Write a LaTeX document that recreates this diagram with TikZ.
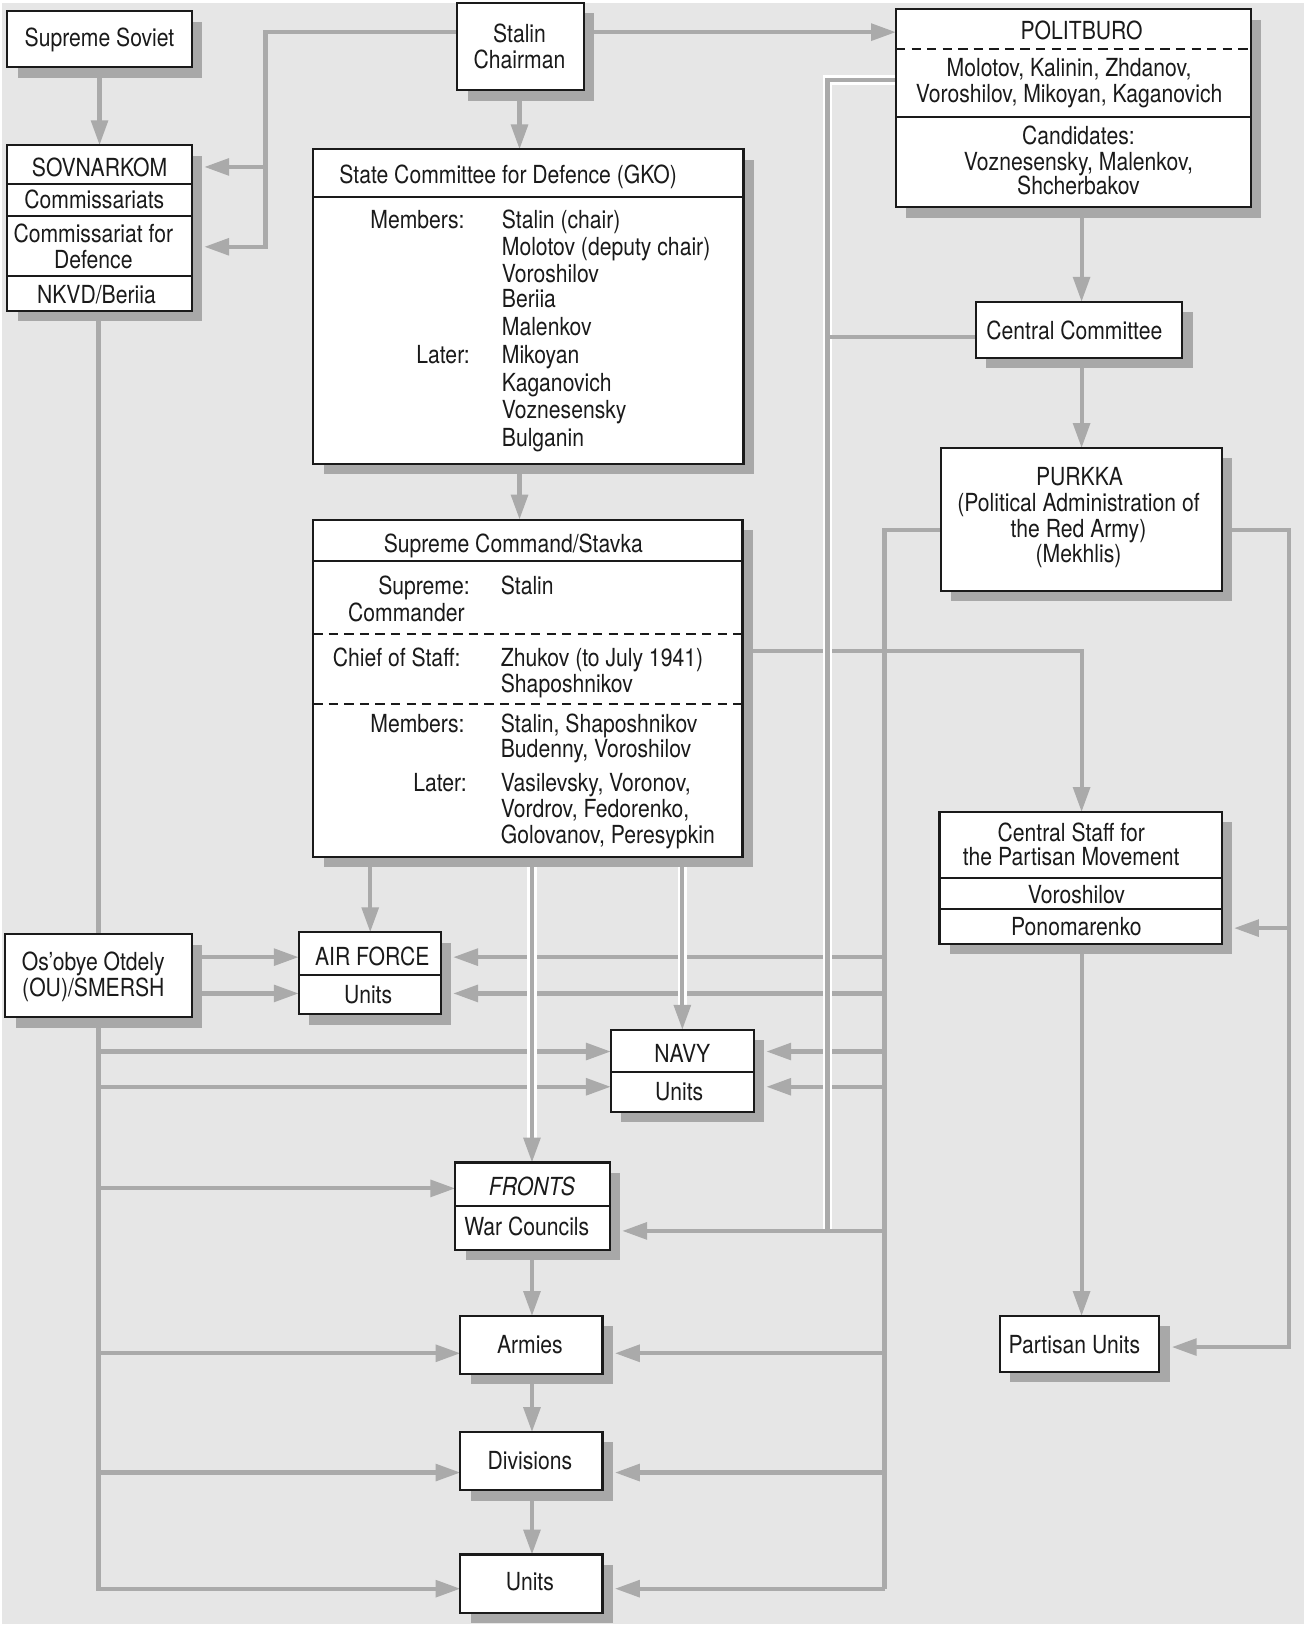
\documentclass[tikz,border=0pt]{standalone}
\usepackage{fontspec}
\setmainfont{TeX Gyre Heros}[FakeStretch=0.85]
\usetikzlibrary{arrows.meta,shadows}
\definecolor{bgc}{HTML}{E6E6E6}
\definecolor{lnc}{HTML}{AAAAAA}
\definecolor{shc}{HTML}{A8A8A8}
\definecolor{txc}{HTML}{1A1A1A}
\pgfdeclarelayer{back}
\pgfdeclarelayer{lines}
\pgfsetlayers{back,lines,main}
\tikzset{
 box/.style={draw=txc, line width=2pt, fill=white, inner sep=0pt, outer sep=0pt,
   drop shadow={shadow xshift=10pt, shadow yshift=-10pt, fill=shc, opacity=1}},
 sepline/.style={draw=txc, line width=2pt},
 dsepline/.style={draw=txc, line width=2pt, dash pattern=on 9pt off 6pt},
 conn/.style={draw=lnc, line width=4pt},
 arr/.style={conn, -{Triangle[length=24pt,width=16pt]}},
 arrs/.style={arr, shorten >=12pt},
 halo/.style={draw=white, line width=9pt},
 txt/.style={font=\fontsize{24}{26}\selectfont, text=txc, inner sep=0pt, outer sep=0pt},
}
\newcommand\mkbox[5]{\node[box, minimum width={(#4-#2)*1pt}, minimum height={(#5-#3)*1pt}] (#1) at ({(#2+#4)/2},{(#3+#5)/2}) {};}
\newcommand\tx[5]{\node[txt, anchor=#2] (#1) at (#3,#4) {#5};}
\begin{document}
\begin{tikzpicture}[x=1pt,y=-1pt]
\useasboundingbox (0,0) rectangle (1257,1568);
\begin{pgfonlayer}{back}
\fill[white] (0,0) rectangle (1257,1568);
\fill[bgc] (2,3) rectangle (1257,1566);
\end{pgfonlayer}

% ---------- boxes ----------
\mkbox{ss}{7}{11}{185}{65}
\mkbox{stalin}{441}{3}{563}{87}
\mkbox{polit}{864}{9}{1206}{200}
\mkbox{sov}{7}{140}{185}{300}
\mkbox{gko}{302}{144}{717}{447}
\mkbox{cc}{941}{291}{1140}{345}
\mkbox{purkka}{907}{432}{1178}{570}
\mkbox{stavka}{302}{501}{716}{826}
\mkbox{csp}{906}{783}{1178}{910}
\mkbox{ou}{5}{901}{185}{981}
\mkbox{af}{288}{899}{425}{978}
\mkbox{navy}{589}{993}{727}{1072}
\mkbox{fronts}{439}{1121}{588}{1205}
\mkbox{armies}{444}{1269}{581}{1325}
\mkbox{div}{444}{1381}{581}{1437}
\mkbox{units}{444}{1499}{581}{1555}
\mkbox{pu}{964}{1269}{1118}{1323}

% ---------- inner separators ----------
\draw[dsepline] (864,47) -- (1206,47);
\draw[sepline] (864,113) -- (1206,113);
\draw[sepline] (7,177) -- (185,177);
\draw[sepline] (7,208) -- (185,208);
\draw[sepline] (7,266) -- (185,266);
\draw[sepline] (302,190) -- (717,190);
\draw[sepline] (302,541) -- (716,541);
\draw[dsepline] (302,611) -- (716,611);
\draw[dsepline] (302,679) -- (716,679);
\draw[sepline] (906,847) -- (1178,847);
\draw[sepline] (906,877) -- (1178,877);
\draw[sepline] (288,940) -- (425,940);
\draw[sepline] (589,1034) -- (727,1034);
\draw[sepline] (439,1163) -- (588,1163);

% ---------- texts ----------
\tx{t1}{base}{96}{45}{Supreme Soviet}
\tx{t2}{base}{501}{41}{Stalin}
\tx{t3}{base}{501}{66}{Chairman}
\tx{t4}{base}{1043}{38}{POLITBURO}
\tx{t5}{base}{1031}{74}{Molotov, Kalinin, Zhdanov,}
\tx{t6}{base}{1031}{99}{Voroshilov, Mikoyan, Kaganovich}
\tx{t7}{base}{1040}{139}{Candidates:}
\tx{t8}{base}{1040}{164}{Voznesensky, Malenkov,}
\tx{t9}{base}{1040}{188}{Shcherbakov}
\tx{t10}{base}{96}{170}{SOVNARKOM}
\tx{t11}{base}{91}{201}{Commissariats}
\tx{t12}{base}{90}{234}{Commissariat for}
\tx{t13}{base}{90}{259}{Defence}
\tx{t14}{base}{93}{293}{NKVD/Beriia}
\tx{t15}{base}{490}{177}{State Committee for Defence (GKO)}
\tx{t16}{base east}{448}{220}{Members:}
\tx{t17}{base west}{484}{220}{Stalin (chair)}
\tx{t18}{base west}{484}{246}{Molotov (deputy chair)}
\tx{t19}{base west}{484}{272}{Voroshilov}
\tx{t20}{base west}{484}{297}{Beriia}
\tx{t21}{base west}{484}{324}{Malenkov}
\tx{t22}{base east}{453}{351}{Later:}
\tx{t23}{base west}{484}{351}{Mikoyan}
\tx{t24}{base west}{484}{378}{Kaganovich}
\tx{t25}{base west}{484}{404}{Voznesensky}
\tx{t26}{base west}{484}{431}{Bulganin}
\tx{t27}{base}{1036}{327}{Central Committee}
\tx{t28}{base}{1041}{468}{PURKKA}
\tx{t29}{base}{1040}{493}{(Political Administration of}
\tx{t30}{base}{1040}{518}{the Red Army)}
\tx{t31}{base}{1040}{542}{(Mekhlis)}
\tx{t32}{base}{495}{533}{Supreme Command/Stavka}
\tx{t33}{base east}{453}{573}{Supreme:}
\tx{t34}{base west}{483}{573}{Stalin}
\tx{t35}{base east}{448}{599}{Commander}
\tx{t36}{base east}{444}{643}{Chief of Staff:}
\tx{t37}{base west}{483}{643}{Zhukov (to July 1941)}
\tx{t38}{base west}{483}{668}{Shaposhnikov}
\tx{t39}{base east}{448}{706}{Members:}
\tx{t40}{base west}{483}{706}{Stalin, Shaposhnikov}
\tx{t41}{base west}{483}{730}{Budenny, Voroshilov}
\tx{t42}{base east}{450}{763}{Later:}
\tx{t43}{base west}{483}{763}{Vasilevsky, Voronov,}
\tx{t44}{base west}{483}{788}{Vordrov, Fedorenko,}
\tx{t45}{base west}{483}{813}{Golovanov, Peresypkin}
\tx{t46}{base}{1033}{811}{Central Staff for}
\tx{t47}{base}{1033}{835}{the Partisan Movement}
\tx{t48}{base}{1038}{871}{Voroshilov}
\tx{t49}{base}{1038}{902}{Ponomarenko}
\tx{t50}{base}{90}{936}{Os’obye Otdely}
\tx{t51}{base}{90}{961}{(OU)/SMERSH}
\tx{t52}{base}{359}{931}{AIR FORCE}
\tx{t53}{base}{355}{968}{Units}
\tx{t54}{base}{658}{1025}{NAVY}
\tx{t55}{base}{655}{1061}{Units}
\tx{t56}{base}{513}{1153}{\itshape FRONTS}
\tx{t57}{base}{508}{1191}{War Councils}
\tx{t58}{base}{511}{1305}{Armies}
\tx{t59}{base}{511}{1417}{Divisions}
\tx{t60}{base}{511}{1534}{Units}
\tx{t61}{base}{1036}{1305}{Partisan Units}

% ---------- guide coordinates ----------
\coordinate (s1) at (256,31);
\coordinate (s2) at (256,161);
\coordinate (s3) at (256,238);
\coordinate (v501) at (501,0);
\coordinate (v1043) at (1043,0);
\coordinate (v357) at (357,0);
\coordinate (v513) at (513,0);
\coordinate (v658) at (658,0);
\coordinate (lt) at (95,0);
\coordinate (k1) at (1043,628);
\coordinate (r1) at (1243,511);
\coordinate (r2) at (1243,1299);
\coordinate (r3) at (1243,895);
\coordinate (l1) at (853,511);
\coordinate (p1) at (798,77);
\coordinate (hcc) at (0,325);
\coordinate (h923) at (0,923);
\coordinate (h958) at (0,958);
\coordinate (h1014) at (0,1014);
\coordinate (h1048) at (0,1048);
\coordinate (h1146) at (0,1146);
\coordinate (h1187) at (0,1187);
\coordinate (h1305) at (0,1305);
\coordinate (h1420) at (0,1420);
\coordinate (h1532) at (0,1532);

% ---------- connectors ----------
\begin{pgfonlayer}{lines}
\draw[arr] (ss.south) -- (sov.north);
\draw[arrs] (stalin.west |- s1) -- (s1) -- (s3) -- (sov.east |- s3);
\draw[arrs] (s2) -- (sov.east |- s2);
\draw[arr] (stalin.east |- s1) -- (polit.west |- s1);
\draw[arr] (stalin.south -| v501) -- (gko.north -| v501);
\draw[arr] (gko.south -| v501) -- (stavka.north -| v501);
\draw[arr] (polit.south -| v1043) -- (cc.north -| v1043);
\draw[arr] (cc.south -| v1043) -- (purkka.north -| v1043);
\draw[arr] (stavka.east |- k1) -- (k1) -- (csp.north -| k1);
\draw[arrs] (purkka.east |- r1) -- (r1) -- (r2) -- (pu.east |- r2);
\draw[arrs] (r3) -- (csp.east |- r3);
\draw[arr] (csp.south -| v1043) -- (pu.north -| v1043);
\draw[arr] (stavka.south -| v357) -- (af.north -| v357);
% left trunk
\draw[conn] (sov.south -| lt) -- (ou.north -| lt);
\draw[arr] (ou.east |- h923) -- (af.west |- h923);
\draw[arr] (ou.east |- h958) -- (af.west |- h958);
\draw[arr] (ou.south -| lt) -- (lt |- h1532) -- (units.west |- h1532);
\draw[arr] (lt |- h1014) -- (navy.west |- h1014);
\draw[arr] (lt |- h1048) -- (navy.west |- h1048);
\draw[arr] (lt |- h1146) -- (fronts.west |- h1146);
\draw[arr] (lt |- h1305) -- (armies.west |- h1305);
\draw[arr] (lt |- h1420) -- (div.west |- h1420);
% right trunk (PURKKA)
\draw[conn] (purkka.west |- l1) -- (l1) -- (l1 |- h1532);
\draw[arrs] (l1 |- h923) -- (af.east |- h923);
\draw[arrs] (l1 |- h958) -- (af.east |- h958);
\draw[arrs] (l1 |- h1014) -- (navy.east |- h1014);
\draw[arrs] (l1 |- h1048) -- (navy.east |- h1048);
\draw[arrs] (l1 |- h1305) -- (armies.east |- h1305);
\draw[arrs] (l1 |- h1420) -- (div.east |- h1420);
\draw[arrs] (l1 |- h1532) -- (units.east |- h1532);
% cased lines
\draw[halo, shorten >=22pt] (stavka.south -| v513) -- (fronts.north -| v513);
\draw[arr] (stavka.south -| v513) -- (fronts.north -| v513);
\draw[halo, shorten >=22pt] (stavka.south -| v658) -- (navy.north -| v658);
\draw[arr] (stavka.south -| v658) -- (navy.north -| v658);
\draw[halo] (polit.west |- p1) -- (p1) -- (p1 |- h1187);
\draw[conn] (polit.west |- p1) -- (p1) -- (p1 |- h1187);
\draw[conn] (cc.west |- hcc) -- (p1 |- hcc);
\draw[arrs] (l1 |- h1187) -- (fronts.east |- h1187);
% chain
\draw[arr] (fronts.south -| v513) -- (armies.north -| v513);
\draw[arr] (armies.south -| v513) -- (div.north -| v513);
\draw[arr] (div.south -| v513) -- (units.north -| v513);
\end{pgfonlayer}
\end{tikzpicture}
\end{document}
